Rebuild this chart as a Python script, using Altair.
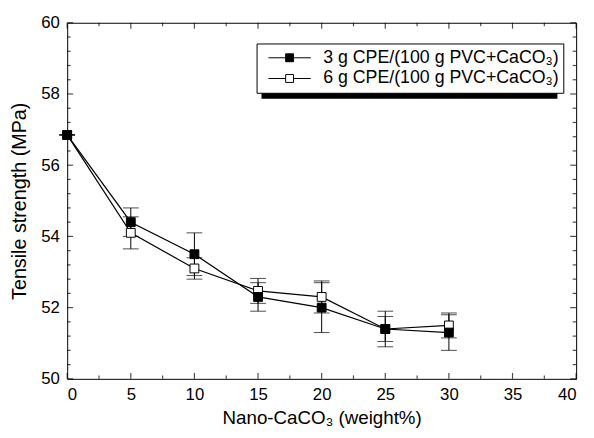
import altair as alt
import pandas as pd

# ---- data ----
loadings = [0, 5, 10, 15, 20, 25, 30]
cpe3_mean = [56.85, 54.4, 53.5, 52.3, 52.0, 51.4, 51.3]
cpe3_err = [0.0, 0.4, 0.6, 0.4, 0.7, 0.5, 0.5]
cpe6_mean = [56.85, 54.1, 53.1, 52.47, 52.3, 51.4, 51.5]
cpe6_err = [0.0, 0.45, 0.3, 0.35, 0.45, 0.35, 0.35]
series_names = ["3 g CPE/(100 g PVC+CaCO\u2083)", "6 g CPE/(100 g PVC+CaCO\u2083)"]

x_major = [0, 5, 10, 15, 20, 25, 30, 35, 40]
x_minor = [2.5, 7.5, 12.5, 17.5, 22.5, 27.5, 32.5, 37.5]
y_major = [50, 52, 54, 56, 58, 60]
y_minor = [50.4, 50.8, 51.2, 51.6, 52.4, 52.8, 53.2, 53.6, 54.4, 54.8, 55.2, 55.6,
           56.4, 56.8, 57.2, 57.6, 58.4, 58.8, 59.2, 59.6]

rows = []
for name, means, errs in [(series_names[1], cpe6_mean, cpe6_err),
                          (series_names[0], cpe3_mean, cpe3_err)]:
    for xv, m, e in zip(loadings, means, errs):
        rows.append({"series": name, "x": xv, "mean": m, "lo": m - e, "hi": m + e})
df = pd.DataFrame(rows)

FONT = "Liberation Sans"
xs = alt.Scale(domain=[0, 40], nice=False, zero=False)
ys = alt.Scale(domain=[50, 60], nice=False, zero=False)

x_main = alt.Axis(values=x_major, ticks=False, domain=False, grid=False,
                  title="Nano-CaCO\u2083 (weight%)",
                  labelFontSize=17, labelFont=FONT, labelColor="black", labelPadding=8,
                  titleFontSize=19, titleFont=FONT, titleFontWeight="normal",
                  titleColor="black", titlePadding=6, format="d")
y_main = alt.Axis(values=y_major, ticks=False, domain=False, grid=False,
                  title="Tensile strength (MPa)",
                  labelFontSize=17, labelFont=FONT, labelColor="black", labelPadding=8,
                  titleFontSize=20, titleFont=FONT, titleFontWeight="normal",
                  titleColor="black", titlePadding=11, format="d")

base = alt.Chart(df)

# error bars
err_rule = base.mark_rule(color="black", strokeWidth=1).encode(
    x=alt.X("x:Q", scale=xs, axis=x_main),
    y=alt.Y("lo:Q", scale=ys, axis=y_main),
    y2="hi:Q",
)
cap_lo = base.mark_tick(color="black", size=16, thickness=1, orient="horizontal").encode(
    x=alt.X("x:Q", scale=xs), y=alt.Y("lo:Q", scale=ys))
cap_hi = base.mark_tick(color="black", size=16, thickness=1, orient="horizontal").encode(
    x=alt.X("x:Q", scale=xs), y=alt.Y("hi:Q", scale=ys))

lines = base.mark_line(color="black", strokeWidth=1.2).encode(
    x=alt.X("x:Q", scale=xs),
    y=alt.Y("mean:Q", scale=ys),
    detail="series:N",
)

# legend symbol: line - square - line
legend_path = "M-1,0H-0.186M0.186,0H1M-0.186,-0.186H0.186V0.186H-0.186Z"
points = base.mark_point(shape="square", size=80, stroke="black", strokeWidth=1,
                         opacity=1).encode(
    x=alt.X("x:Q", scale=xs),
    y=alt.Y("mean:Q", scale=ys),
    fill=alt.Fill("series:N",
                  scale=alt.Scale(domain=series_names, range=["black", "white"]),
                  legend=alt.Legend(title=None, orient="none", legendX=192, legendY=21,
                                    symbolType=legend_path, symbolSize=1849,
                                    symbolStrokeColor="black", symbolStrokeWidth=1,
                                    symbolOpacity=1, symbolOffset=7.5, clipHeight=21,
                                    labelFont=FONT, labelFontSize=18, labelColor="black",
                                    labelOffset=12, labelLimit=400,
                                    fillColor="white", strokeColor="black",
                                    padding=4, rowPadding=0)),
)

# drop shadow behind the legend box
shadow = alt.Chart(pd.DataFrame({"k": [0]})).mark_rect(color="black").encode(
    x=alt.value(197), x2=alt.value(497), y=alt.value(26), y2=alt.value(77))

# inward tick marks on all four sides, placed through the scales
xmaj = pd.DataFrame({"v": x_major})
xmin = pd.DataFrame({"v": x_minor})
ymaj = pd.DataFrame({"v": y_major})
ymin = pd.DataFrame({"v": y_minor})

def xticks(data, at, size, sign):
    return alt.Chart(data).mark_tick(color="black", thickness=1.2, size=size,
                                     orient="vertical", yOffset=sign * size / 2).encode(
        x=alt.X("v:Q", scale=xs), y=alt.Y(datum=at, scale=ys))

def yticks(data, at, size, sign):
    return alt.Chart(data).mark_tick(color="black", thickness=1.2, size=size,
                                     orient="horizontal", xOffset=sign * size / 2).encode(
        y=alt.Y("v:Q", scale=ys), x=alt.X(datum=at, scale=xs))

tick_layers = [
    xticks(xmaj, 50, 6, -1), xticks(xmin, 50, 3.5, -1),
    xticks(xmaj, 60, 6, 1), xticks(xmin, 60, 3.5, 1),
    yticks(ymaj, 0, 6, 1), yticks(ymin, 0, 3.5, 1),
    yticks(ymaj, 40, 6, -1), yticks(ymin, 40, 3.5, -1),
]

chart = alt.layer(
    err_rule, *tick_layers, cap_lo, cap_hi, lines, points, shadow,
).properties(
    width=516, height=361,
    autosize=alt.AutoSizeParams(type="none"),
    padding={"left": 60, "top": 12, "right": 10, "bottom": 57},
).configure_view(stroke="black", strokeWidth=1)

chart.save("out.html", embed_options={"renderer": "svg", "actions": False})
